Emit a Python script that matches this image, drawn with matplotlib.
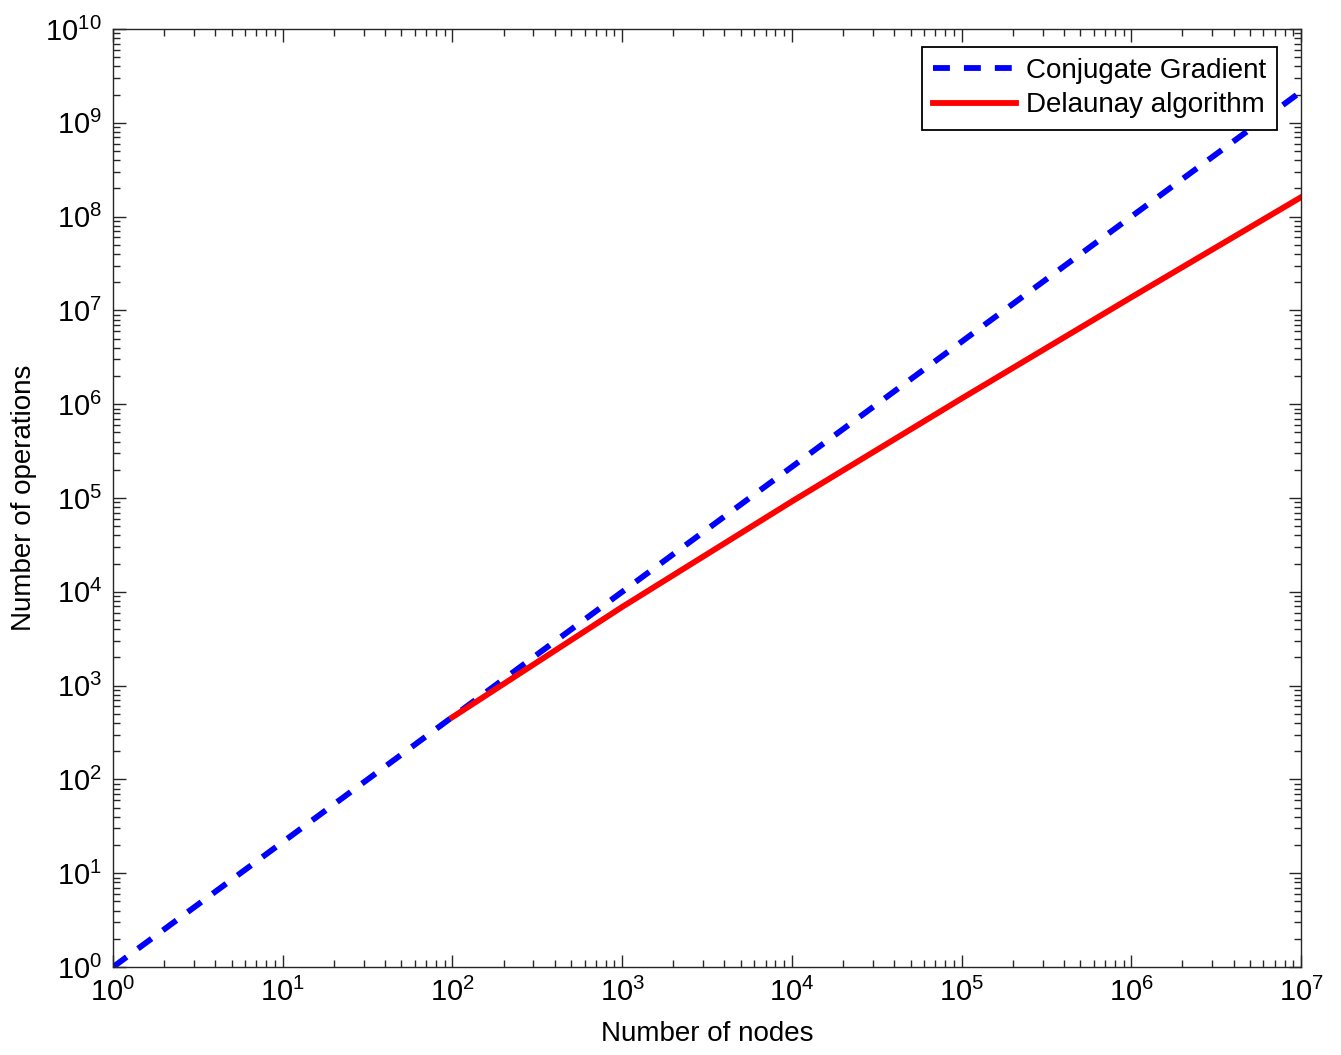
import matplotlib
matplotlib.use("Agg")
import matplotlib.pyplot as plt
from matplotlib.ticker import LogLocator, NullFormatter

plt.rcParams['font.family'] = ['Liberation Sans', 'DejaVu Sans']
plt.rcParams['mathtext.fontset'] = 'custom'
plt.rcParams['mathtext.rm'] = 'Liberation Sans'
plt.rcParams['mathtext.it'] = 'Liberation Sans:italic'
plt.rcParams['mathtext.bf'] = 'Liberation Sans:bold'
plt.rcParams['mathtext.default'] = 'regular'

# Data
cg_nodes = [1e0, 1e1, 1e2, 1e3, 1e4, 1e5, 1e6, 1e7]
cg_ops = [1.0, 21.5, 464, 1.0e4, 2.15e5, 4.64e6, 1.0e8, 2.15e9]

del_nodes = [1e2, 1e3, 1e4, 1e5, 1e6, 1e7]
del_ops = [461, 6.9e3, 9.2e4, 1.15e6, 1.38e7, 1.61e8]

fig = plt.figure(figsize=(13.41, 10.55), dpi=100)
ax = fig.add_axes([0.0843, 0.0834, 0.8859, 0.8891])

ax.plot(cg_nodes, cg_ops, color='#0000ff', lw=4.2, linestyle=(0, (2.9, 2.4)),
        dash_capstyle='butt', label='Conjugate Gradient')
ax.plot(del_nodes, del_ops, color='#ff0000', lw=4.2, label='Delaunay algorithm')

ax.set_xscale('log')
ax.set_yscale('log')
ax.set_xlim(1, 1e7)
ax.set_ylim(1, 1e10)

ax.xaxis.set_major_locator(LogLocator(base=10, numticks=20))
ax.yaxis.set_major_locator(LogLocator(base=10, numticks=20))
ax.xaxis.set_minor_locator(LogLocator(base=10, subs=range(2, 10), numticks=100))
ax.yaxis.set_minor_locator(LogLocator(base=10, subs=range(2, 10), numticks=100))
ax.xaxis.set_minor_formatter(NullFormatter())
ax.yaxis.set_minor_formatter(NullFormatter())

ax.tick_params(which='both', direction='in', top=True, right=True, labelsize=21,
               colors='#262626', labelcolor='black', width=1)
ax.tick_params(which='major', length=9, pad=8)
ax.tick_params(which='minor', length=5)
for s in ax.spines.values():
    s.set_linewidth(1)
    s.set_color('#262626')

ax.set_xlabel('Number of nodes', fontsize=20, labelpad=10)
ax.set_ylabel('Number of operations', fontsize=20, labelpad=6)

leg = ax.legend(loc='upper right', bbox_to_anchor=(0.9798, 0.9808), borderaxespad=0,
                fontsize=20, handlelength=3, frameon=True, framealpha=1,
                fancybox=False, edgecolor='black',
                borderpad=0.4, labelspacing=0.3, handletextpad=0.35)
leg.get_frame().set_linewidth(1.3)

fig.savefig('out.png', dpi=100, facecolor='white')
